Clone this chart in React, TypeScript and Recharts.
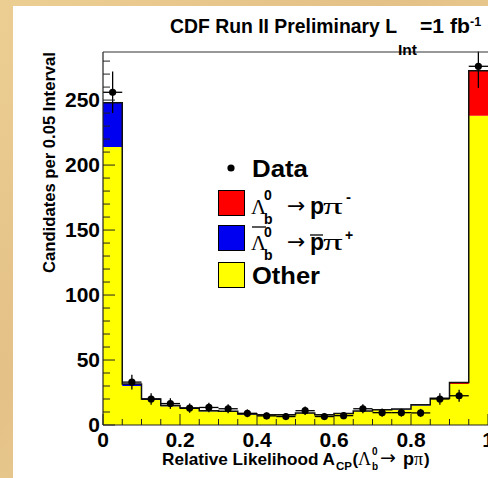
import React from 'react';
import { ComposedChart, Area, Line, Scatter, ErrorBar, XAxis, YAxis } from 'recharts';

// Bin lower edges and centres (bin width 0.05)
const binLow = [0, 0.05, 0.1, 0.15, 0.2, 0.25, 0.3, 0.35, 0.4, 0.45, 0.5, 0.55, 0.6, 0.65, 0.7, 0.75, 0.8, 0.85, 0.9, 0.95];
const binCenter = [0.025, 0.075, 0.125, 0.175, 0.225, 0.275, 0.325, 0.375, 0.425, 0.475, 0.525, 0.575, 0.625, 0.675, 0.725, 0.775, 0.825, 0.875, 0.925, 0.975];
const binHalfWidth = [0.025, 0.025, 0.025, 0.025, 0.025, 0.025, 0.025, 0.025, 0.025, 0.025, 0.025, 0.025, 0.025, 0.025, 0.025, 0.025, 0.025, 0.025, 0.025, 0.025];

// Stacked template contributions
const otherCounts = [214, 30, 19.5, 14.5, 12.5, 10.5, 10, 8, 7.5, 7.5, 9, 7.5, 8.5, 10.5, 11.5, 12, 15, 20, 31.5, 238];
const antiLambdaCounts = [34, 1.5, 0.5, 0.5, 0.5, 0.5, 0.5, 0.5, 0.3, 0.3, 0.3, 0.3, 0.3, 0.3, 0.3, 0.3, 0.3, 0.3, 0, 0];
const lambdaCounts = [0, 0, 0, 0, 0, 0, 0, 0, 0, 0, 0, 0, 0, 0, 0, 0, 0.3, 0.3, 1.2, 34.5];

// Data points
const dataCounts = [256, 33, 20, 16.5, 13, 13.5, 12.5, 9, 7, 6.5, 11, 6.5, 7.2, 12.5, 9.5, 9.5, 9.3, 20, 22.5, 276];
const dataErrors = [16, 5.7, 4.5, 4.1, 3.6, 3.7, 3.5, 3, 2.6, 2.5, 3.3, 2.5, 2.7, 3.5, 3.1, 3.1, 3.1, 4.5, 4.7, 16.6];

const xTicks = [0, 0.05, 0.1, 0.15, 0.2, 0.25, 0.3, 0.35, 0.4, 0.45, 0.5, 0.55, 0.6, 0.65, 0.7, 0.75, 0.8, 0.85, 0.9, 0.95, 1];
const xMajorTicks = [0, 0.2, 0.4, 0.6, 0.8, 1];
const xTickLabels = ['0', '0.2', '0.4', '0.6', '0.8', '1'];
const yTicks = [0, 10, 20, 30, 40, 50, 60, 70, 80, 90, 100, 110, 120, 130, 140, 150, 160, 170, 180, 190, 200, 210, 220, 230, 240, 250, 260, 270, 280];
const yMajorTicks = [0, 50, 100, 150, 200, 250];
const yTickLabels = ['0', '50', '100', '150', '200', '250'];

const SANS = '"Liberation Sans", Arial, Helvetica, sans-serif';
const SERIF = '"Liberation Serif", "DejaVu Serif", "Times New Roman", serif';
const ARROW = '"DejaVu Sans", sans-serif';

const stackRows = binLow.map((x, i) => ({
  x,
  other: otherCounts[i],
  anti: antiLambdaCounts[i],
  lam: lambdaCounts[i],
  total: otherCounts[i] + antiLambdaCounts[i] + lambdaCounts[i],
}));
const lastRow = stackRows[stackRows.length - 1];
const areaData = [...stackRows, { ...lastRow, x: 1 }];

const pointData = binCenter.map((x, i) => ({
  x,
  y: dataCounts[i],
  ey: dataErrors[i],
  ex: binHalfWidth[i],
}));

const YTick = (props: any) => {
  const { x, y, payload } = props;
  const v = payload.value;
  const idx = yMajorTicks.findIndex((m) => Math.abs(m - v) < 1e-6);
  if (idx >= 0) {
    return (
      <g>
        <line x1={x} x2={x + 12} y1={y} y2={y} stroke="#222" strokeWidth={1} />
        <text x={x - 3} y={y + 7} textAnchor="end" fontFamily={SANS} fontWeight="bold" fontSize={21} fill="#000">
          {yTickLabels[idx]}
        </text>
      </g>
    );
  }
  return <line x1={x} x2={x + 7} y1={y} y2={y} stroke="#222" strokeWidth={1} />;
};

const XTick = (props: any) => {
  const { x, y, payload } = props;
  const v = payload.value;
  const idx = xMajorTicks.findIndex((m) => Math.abs(m - v) < 1e-6);
  if (idx >= 0) {
    return (
      <g>
        <line x1={x} x2={x} y1={y} y2={y - 11} stroke="#222" strokeWidth={1} />
        <text x={x} y={y + 22} textAnchor="middle" fontFamily={SANS} fontWeight="bold" fontSize={21} fill="#000">
          {xTickLabels[idx]}
        </text>
      </g>
    );
  }
  return <line x1={x} x2={x} y1={y} y2={y - 6} stroke="#222" strokeWidth={1} />;
};

const Dot = (props: any) => {
  const { cx, cy } = props;
  if (cx == null || cy == null) return null;
  return <circle cx={cx} cy={cy} r={3.6} fill="#000" />;
};

export default function App() {
  return (
    <div style={{ position: 'absolute', left: 0, top: 0, width: 488, height: 478, overflow: 'hidden', background: 'linear-gradient(135deg, #ecce93 0%, #e4c186 40%, #eccf96 70%, #e2bf84 100%)' }}>
      <div style={{ position: 'absolute', left: 13, top: 6, width: 475, height: 472, background: '#ffffff' }} />
      <div style={{ position: 'absolute', left: 0, top: 0 }}>
        <ComposedChart width={488} height={478} data={areaData} margin={{ top: 52, right: 0, bottom: 0, left: 0 }}>
          <Area type="stepAfter" dataKey="other" stackId="s" fill="#ffff00" fillOpacity={1} stroke="none" isAnimationActive={false} />
          <Area type="stepAfter" dataKey="anti" stackId="s" fill="#0000f0" fillOpacity={1} stroke="none" isAnimationActive={false} />
          <Area type="stepAfter" dataKey="lam" stackId="s" fill="#ff0000" fillOpacity={1} stroke="none" isAnimationActive={false} />
          <Line type="stepAfter" dataKey="total" stroke="#111" strokeWidth={1.5} dot={false} activeDot={false} isAnimationActive={false} />
          <Scatter data={pointData} dataKey="y" shape={<Dot />} isAnimationActive={false}>
            <ErrorBar dataKey="ey" direction="y" width={0} stroke="#000" strokeWidth={1.3} />
            <ErrorBar dataKey="ex" direction="x" width={0} stroke="#000" strokeWidth={1.3} />
          </Scatter>
          <XAxis
            type="number"
            dataKey="x"
            domain={[0, 1]}
            ticks={xTicks}
            interval={0}
            allowDataOverflow
            height={53}
            tickSize={0}
            tickMargin={0}
            tickLine={false}
            axisLine={{ stroke: '#222', strokeWidth: 1.2 }}
            tick={<XTick />}
          />
          <YAxis
            type="number"
            domain={[0, 287]}
            ticks={yTicks}
            interval={0}
            allowDataOverflow
            width={103}
            tickSize={0}
            tickMargin={0}
            tickLine={false}
            axisLine={{ stroke: '#222', strokeWidth: 1.2 }}
            tick={<YTick />}
          />
        </ComposedChart>
      </div>
      <svg width={488} height={478} style={{ position: 'absolute', left: 0, top: 0, pointerEvents: 'none' }}>
        {/* white margin above the frame: the data error bar is clipped at the frame, as in the reference */}
        <rect x={440} y={30} width={48} height={21.6} fill="#ffffff" />
        <line x1={103} x2={488} y1={52} y2={52} stroke="#333" strokeWidth={1.2} />
        {/* Title */}
        <g fontFamily={SANS} fontWeight="bold" fill="#000">
          <text x={170} y={33} fontSize={19.5} textLength={227} lengthAdjust="spacingAndGlyphs">CDF Run II Preliminary L</text>
          <text x={398} y={55} fontSize={14} textLength={19} lengthAdjust="spacingAndGlyphs">Int</text>
          <text x={420} y={33} fontSize={19.5} textLength={50} lengthAdjust="spacingAndGlyphs">=1 fb</text>
          <text x={470} y={26} fontSize={12.5}>-1</text>
        </g>
        {/* Y axis title */}
        <text transform="translate(55,162.5) rotate(-90)" textAnchor="middle" fontFamily={SANS} fontWeight="bold" fontSize={16.5} textLength={221} lengthAdjust="spacingAndGlyphs" fill="#000">
          Candidates per 0.05 Interval
        </text>
        {/* X axis title */}
        <g fill="#000">
          <text x={162} y={465} fontFamily={SANS} fontWeight="bold" fontSize={17} textLength={173} lengthAdjust="spacingAndGlyphs">Relative Likelihood A</text>
          <text x={336} y={470} fontFamily={SANS} fontWeight="bold" fontSize={11} textLength={16} lengthAdjust="spacingAndGlyphs">CP</text>
          <text x={352.5} y={465} fontFamily={SANS} fontWeight="bold" fontSize={17}>(</text>
          <text x={358} y={465} fontFamily={SERIF} fontSize={18}>Λ</text>
          <text x={372} y={470} fontFamily={SANS} fontWeight="bold" fontSize={10}>b</text>
          <text x={372} y={455} fontFamily={SANS} fontWeight="bold" fontSize={10}>0</text>
          <text x={380} y={464} fontFamily={ARROW} fontSize={19}>→</text>
          <text x={403} y={465} fontFamily={SANS} fontWeight="bold" fontSize={18}>p</text>
          <text x={414} y={465} fontFamily={SERIF} fontSize={18}>π</text>
          <text x={424} y={465} fontFamily={SANS} fontWeight="bold" fontSize={17}>)</text>
        </g>
        {/* Legend */}
        <g fill="#000">
          <circle cx={231} cy={168} r={3.6} fill="#000" />
          <text x={252} y={177} fontFamily={SANS} fontWeight="bold" fontSize={24} textLength={56} lengthAdjust="spacingAndGlyphs">Data</text>

          <rect x={218.5} y={190.5} width={26} height={25} fill="#ff0000" stroke="#000" strokeWidth={1} />
          <text x={251} y={214} fontFamily={SERIF} fontSize={21}>Λ</text>
          <text x={264} y={224} fontFamily={SANS} fontWeight="bold" fontSize={14}>b</text>
          <text x={264} y={200} fontFamily={SANS} fontWeight="bold" fontSize={14}>0</text>
          <text x={287} y={213} fontFamily={ARROW} fontSize={22}>→</text>
          <text x={310} y={214} fontFamily={SANS} fontWeight="bold" fontSize={23}>p</text>
          <text transform="translate(323,214) scale(1.7,1)" fontFamily={SERIF} fontSize={23}>π</text>
          <text x={346} y={202} fontFamily={SANS} fontWeight="bold" fontSize={15}>-</text>

          <rect x={218.5} y={225.5} width={26} height={25} fill="#0000f0" stroke="#000" strokeWidth={1} />
          <line x1={252} x2={266} y1={227} y2={227} stroke="#000" strokeWidth={1.3} />
          <text x={251} y={250} fontFamily={SERIF} fontSize={21}>Λ</text>
          <text x={264} y={260} fontFamily={SANS} fontWeight="bold" fontSize={14}>b</text>
          <text x={264} y={237} fontFamily={SANS} fontWeight="bold" fontSize={14}>0</text>
          <text x={287} y={249} fontFamily={ARROW} fontSize={22}>→</text>
          <line x1={310} x2={323} y1={235} y2={235} stroke="#000" strokeWidth={1.3} />
          <text x={310} y={250} fontFamily={SANS} fontWeight="bold" fontSize={23}>p</text>
          <text transform="translate(323,250) scale(1.7,1)" fontFamily={SERIF} fontSize={23}>π</text>
          <text x={345} y={240} fontFamily={SANS} fontWeight="bold" fontSize={14}>+</text>

          <rect x={218.5} y={262.5} width={26} height={25} fill="#ffff00" stroke="#000" strokeWidth={1} />
          <text x={252} y={284} fontFamily={SANS} fontWeight="bold" fontSize={24} textLength={68} lengthAdjust="spacingAndGlyphs">Other</text>
        </g>
      </svg>
    </div>
  );
}
